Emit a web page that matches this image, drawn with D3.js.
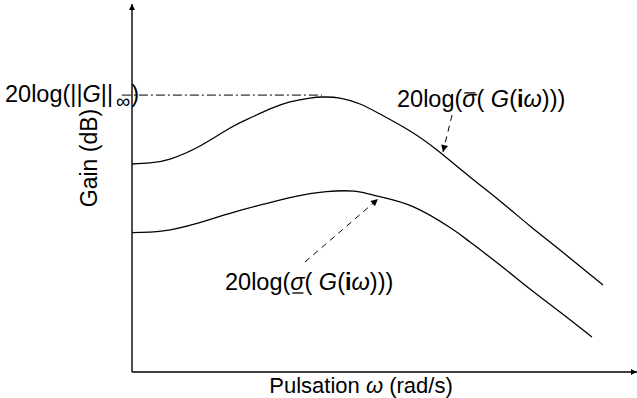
<!DOCTYPE html>
<html>
<head>
<meta charset="utf-8">
<script src="https://cdn.jsdelivr.net/npm/d3@7/dist/d3.min.js"></script>
<style>
  html, body { margin: 0; padding: 0; background: #fff; }
  svg text { font-family: "Liberation Sans", Arial, Helvetica, sans-serif; fill: #000; }
</style>
</head>
<body>
<svg id="chart" width="637" height="398"></svg>
<script>
// Pulsation in arbitrary log-frequency units, gain in dB (arbitrary origin)
const pulsation = [0, 3.56, 7.52, 13.47, 19.41, 23.37, 27.33, 31.29, 35.25, 37.82, 41.19, 45.15, 49.11, 55.05, 60.40, 66.93, 72.87, 78.81, 84.75, 93.27];
const sigmaMax  = [22.61, 22.72, 23.15, 24.57, 26.52, 27.61, 28.59, 29.35, 29.78, 29.89, 29.78, 29.13, 28.04, 26.20, 24.13, 21.20, 18.59, 15.87, 13.26, 9.46];

const pulsationLow = [0, 6.14, 12.87, 19.41, 26.14, 32.67, 38.5, 44.0, 49.11, 55.64, 62.97, 66.93, 72.87, 78.81, 84.75, 91.09];
const sigmaMin     = [15.14, 15.33, 16.16, 17.25, 18.25, 19.12, 19.60, 19.65, 19.05, 17.97, 15.70, 14.13, 11.63, 9.02, 6.52, 3.80];

const hinfDb = 30.1;          // level of ||G||_inf
const hinfExtent = [-2, 37.6];

const xLabel = "Pulsation";
const yLabel = "Gain (dB)";

const svg = d3.select("#chart");
const x = d3.scaleLinear().domain([0, 100]).range([132, 637]);
const y = d3.scaleLinear().domain([0, 40]).range([372, 4]);

// arrow markers
const defs = svg.append("defs");
defs.append("marker").attr("id", "axisHead")
  .attr("viewBox", "0 0 10 10").attr("refX", 10).attr("refY", 5)
  .attr("markerWidth", 12).attr("markerHeight", 6).attr("markerUnits", "userSpaceOnUse")
  .attr("orient", "auto")
  .append("path").attr("d", "M0,0 L10,5 L0,10 Z").attr("fill", "#000");
defs.append("marker").attr("id", "annHead")
  .attr("viewBox", "0 0 10 10").attr("refX", 10).attr("refY", 5)
  .attr("markerWidth", 11).attr("markerHeight", 7).attr("markerUnits", "userSpaceOnUse")
  .attr("orient", "auto")
  .append("path").attr("d", "M0,0 L10,5 L0,10 Z").attr("fill", "#000");

// axes
svg.append("line")
  .attr("x1", x(0)).attr("y1", y(0)).attr("x2", x(0)).attr("y2", y(40))
  .attr("stroke", "#000").attr("stroke-width", 1.4).attr("marker-end", "url(#axisHead)");
svg.append("line")
  .attr("x1", x(0)).attr("y1", y(0)).attr("x2", x(100)).attr("y2", y(0))
  .attr("stroke", "#000").attr("stroke-width", 1.4).attr("marker-end", "url(#axisHead)");

// curves
const line = d3.line().x(d => x(d[0])).y(d => y(d[1])).curve(d3.curveNatural);
svg.append("path")
  .datum(pulsation.map((p, i) => [p, sigmaMax[i]]))
  .attr("d", line).attr("fill", "none").attr("stroke", "#000").attr("stroke-width", 1.3);
svg.append("path")
  .datum(pulsationLow.map((p, i) => [p, sigmaMin[i]]))
  .attr("d", line).attr("fill", "none").attr("stroke", "#000").attr("stroke-width", 1.3);

// H-inf dash-dot line
svg.append("line")
  .attr("x1", x(hinfExtent[0])).attr("x2", x(hinfExtent[1]))
  .attr("y1", y(hinfDb)).attr("y2", y(hinfDb))
  .attr("stroke", "#000").attr("stroke-width", 1).attr("stroke-dasharray", "9,3,2,3");

// annotation arrows
const arrows = [
  { from: [63.37, 27.93], to: [61.58, 23.91] },
  { from: [34.26, 11.96], to: [48.71, 18.80] }
];
svg.selectAll(".ann").data(arrows).join("line")
  .attr("x1", d => x(d.from[0])).attr("y1", d => y(d.from[1]))
  .attr("x2", d => x(d.to[0])).attr("y2", d => y(d.to[1]))
  .attr("stroke", "#000").attr("stroke-width", 1).attr("stroke-dasharray", "6,5")
  .attr("marker-end", "url(#annHead)");

const fs = 23.5;
// H-inf label
const t1 = svg.append("text").attr("x", 5).attr("y", 102).attr("font-size", fs);
t1.append("tspan").text("20log(||");
t1.append("tspan").attr("font-style", "italic").text("G");
t1.append("tspan").text("||");
t1.append("tspan").attr("font-size", 20).attr("dx", 3).attr("dy", 6).text("\u221E");
t1.append("tspan").attr("dx", 1).attr("dy", -6).text(")");

// sigma labels
function gLabel(sel, mark) {
  sel.append("tspan").text("20log(");
  sel.append("tspan").attr("font-style", "italic").text("\u03C3");
  sel.append("tspan").text("( ");
  sel.append("tspan").attr("font-style", "italic").text("G");
  sel.append("tspan").text("(");
  sel.append("tspan").attr("font-weight", "bold").text("i");
  sel.append("tspan").attr("font-style", "italic").text("\u03C9");
  sel.append("tspan").text(")))");
  const ext = sel.node().getExtentOfChar(6);
  const base = +sel.attr("y");
  const ly = mark === "bar" ? base - fs * 0.6 : base + 3;
  svg.append("line")
    .attr("x1", ext.x + 2).attr("x2", ext.x + ext.width - 1)
    .attr("y1", ly).attr("y2", ly)
    .attr("stroke", "#000").attr("stroke-width", 1.3);
}
const t2 = svg.append("text").attr("x", 397).attr("y", 107).attr("font-size", fs);
gLabel(t2, "bar");
const t3 = svg.append("text").attr("x", 225).attr("y", 290).attr("font-size", fs);
gLabel(t3, "under");

// axis labels
const xl = svg.append("text").attr("x", 361).attr("y", 393).attr("text-anchor", "middle").attr("font-size", 22);
xl.append("tspan").text(xLabel + " ");
xl.append("tspan").attr("font-style", "italic").text("\u03C9");
xl.append("tspan").text(" (rad/s)");

svg.append("text")
  .attr("transform", "translate(97,158) rotate(-90)")
  .attr("text-anchor", "middle").attr("font-size", 23)
  .text(yLabel);
</script>
</body>
</html>
